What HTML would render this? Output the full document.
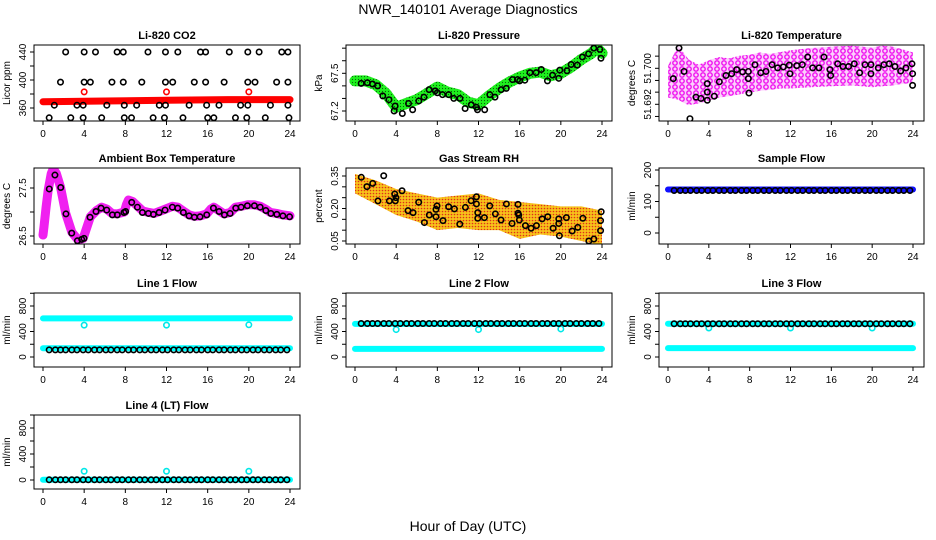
<!DOCTYPE html>
<html><head><meta charset="utf-8"><style>
body{margin:0;background:#fff}
svg{display:block;font-family:"Liberation Sans",sans-serif}
</style></head><body>
<svg id="c" width="936" height="540" viewBox="0 0 936 540">
<defs>
<pattern id="rhdots" width="3" height="3" patternUnits="userSpaceOnUse"><rect width="3" height="3" fill="#f7c21a"/><circle cx="1.5" cy="1.5" r="0.8" fill="#e0301a"/></pattern>
<pattern id="grdots" width="3" height="3" patternUnits="userSpaceOnUse"><rect width="3" height="3" fill="#1ef01e"/><circle cx="1.5" cy="1.5" r="0.6" fill="#0a600a"/></pattern>
<pattern id="mgring" width="7" height="6" patternUnits="userSpaceOnUse"><rect width="7" height="6" fill="#fbd0fb"/><circle cx="3" cy="3" r="2.2" fill="none" stroke="#f010f0" stroke-width="1.4"/></pattern>
</defs>
<text x="468" y="14" font-size="14" text-anchor="middle">NWR_140101  Average Diagnostics</text>
<text x="468" y="531" font-size="14" text-anchor="middle">Hour of Day (UTC)</text>
</svg>
<script>
// ---- data ----
const xTicks=[0,4,8,12,16,20,24];
const co2TopH=[2.2,4.0,5.1,7.2,7.8,10.2,11.9,13.1,15.3,15.8,18.1,19.9,21.0,23.2,23.8];
const co2MidH=[1.7,4.0,4.6,6.7,7.8,9.6,11.9,12.6,14.7,15.8,17.6,19.9,20.6,22.7,23.8];
const co2LowH=[1.1,3.3,3.9,6.2,7.9,9.1,11.3,11.9,14.2,15.9,17.1,19.2,19.9,22.1,23.8];
const co2BotH=[0.6,2.7,3.9,5.7,7.9,8.6,10.7,11.8,13.6,16.0,16.6,18.7,19.8,21.6,23.9];
const co2Levels=[440,397,364,346];
const co2RedH=[0,6,12,18,24];
const co2RedV=[369,370,371,372,372];
const co2RedOutH=[4,12,20];
const co2RedOutV=[383,383,383];

const presBlkH=[0.6,1.2,1.7,2.2,2.7,3.3,3.9,3.8,4.6,5.2,5.6,6.2,6.7,7.2,7.8,8.0,8.5,9.1,9.6,10.2,10.7,11.3,11.8,11.9,12.6,13.1,13.6,14.2,14.7,15.3,15.8,16.0,16.5,17.0,17.6,18.1,18.7,19.2,19.8,19.9,20.6,21.0,21.6,22.1,22.7,23.2,23.8,23.9];
const presBlkV=[67.42,67.425,67.415,67.40,67.32,67.29,67.24,67.20,67.18,67.26,67.21,67.28,67.31,67.37,67.36,67.345,67.33,67.33,67.30,67.30,67.22,67.25,67.23,67.21,67.21,67.33,67.31,67.37,67.38,67.45,67.45,67.44,67.445,67.505,67.505,67.53,67.44,67.485,67.46,67.525,67.52,67.57,67.565,67.63,67.655,67.70,67.69,67.62];
const presGrnH=[0,1,2,3,4,5,6,7,8,9,10,11,12,13,14,15,16,17,18,19,20,21,22,23,23.5,24];
const presGrnV=[67.44,67.44,67.41,67.34,67.23,67.26,67.29,67.34,67.39,67.35,67.33,67.27,67.25,67.32,67.38,67.43,67.47,67.50,67.51,67.48,67.50,67.55,67.61,67.66,67.70,67.66];

const tempBlkH=[0.52,1.08,1.57,2.15,2.74,3.23,3.85,3.85,3.85,4.54,5.03,5.68,6.24,6.73,7.31,7.87,7.87,7.93,8.52,9.08,9.60,10.19,10.74,11.30,11.88,11.95,12.61,13.16,13.68,14.17,14.79,15.28,15.87,15.93,16.62,17.14,17.69,18.25,18.77,19.30,19.88,19.88,20.6,21.15,21.67,22.23,22.79,23.31,23.90,23.96,23.96];
const tempBlkV=[51.6977,51.7045,51.6993,51.6888,51.6936,51.6933,51.6966,51.6947,51.6929,51.6938,51.6970,51.6984,51.6988,51.6997,51.6992,51.6993,51.6977,51.6945,51.7008,51.6990,51.6993,51.7008,51.7001,51.7003,51.7007,51.6988,51.7006,51.7008,51.7025,51.7001,51.7001,51.7025,51.6997,51.6984,51.7010,51.7004,51.7004,51.7010,51.6990,51.7008,51.7008,51.6988,51.7001,51.7008,51.7010,51.7004,51.6994,51.7001,51.7010,51.6988,51.6962];
const tempBandH=[0,1,2,3,4,5,6,7,8,9,10,11,12,14,16,18,20,21,22,23,24];
const tempBandHi=[51.7005,51.7050,51.7020,51.7008,51.7018,51.7025,51.7022,51.7028,51.7030,51.7035,51.7032,51.7036,51.7040,51.7045,51.7048,51.7050,51.7046,51.7050,51.7048,51.7042,51.7035];
const tempBandLo=[51.6935,51.6930,51.6918,51.6922,51.6928,51.6935,51.6938,51.6942,51.6946,51.6950,51.6952,51.6955,51.6955,51.6958,51.6960,51.6962,51.6958,51.6960,51.6962,51.6965,51.6968];
const tempTicks=[51.6893,51.6920,51.6947,51.6973,51.7000,51.7027];
const tempTickLbl=["","51.692","","","51.700",""];

const ambBlkH=[0.61,1.16,1.72,2.23,2.79,3.34,3.76,3.98,4.57,5.15,5.64,6.19,6.74,7.22,7.87,8.03,8.62,9.17,9.66,10.24,10.73,11.28,11.86,12.57,13.09,13.64,14.19,14.71,15.26,15.91,16.56,17.11,17.63,18.18,18.73,19.25,19.86,20.54,21.10,21.65,22.14,22.72,23.31,23.96];
const ambBlkV=[27.48,27.77,27.51,26.96,26.56,26.40,26.43,26.45,26.89,27.01,27.08,27.04,26.94,26.94,26.99,27.01,27.20,27.10,26.99,26.97,26.95,26.99,27.04,27.10,27.08,26.99,26.92,26.89,26.90,26.94,27.08,27.01,26.94,26.97,27.08,27.10,27.13,27.13,27.10,27.03,26.97,26.95,26.92,26.90];
const ambMagH=[0,0.1,0.3,0.5,0.8,1.0,1.3,1.7,2.2,2.8,3.4,3.9,4.6,5.2,5.7,6.2,6.7,7.2,7.9,8.1,8.3,8.7,9.2,9.7,10.3,10.8,11.3,11.9,12.6,13.1,13.7,14.2,14.7,15.3,15.9,16.3,16.6,17.1,17.6,18.2,18.7,19.3,19.9,20.5,21.1,21.7,22.1,22.7,23.3,24];
const ambMagV=[26.52,26.7,27.1,27.45,27.8,27.9,27.8,27.52,26.98,26.58,26.42,26.45,26.9,27.03,27.1,27.06,26.97,26.96,27.0,27.15,27.25,27.22,27.12,27.02,26.99,26.97,27.01,27.06,27.12,27.10,27.01,26.94,26.91,26.92,26.96,27.06,27.1,27.03,26.96,26.99,27.1,27.12,27.15,27.15,27.12,27.05,26.99,26.97,26.94,26.92];

const rhBlkH=[0.61,1.16,1.72,2.79,2.23,3.34,3.86,3.92,3.98,4.57,5.15,5.64,6.19,6.74,7.22,7.87,7.97,7.87,8.55,9.10,9.66,10.18,10.73,11.28,11.80,11.80,11.93,11.93,12.57,13.09,13.64,14.19,14.71,15.26,15.84,15.84,15.91,15.97,16.56,17.11,17.63,18.18,18.73,19.25,19.86,19.80,19.80,20.54,21.10,21.65,22.14,22.72,23.21,23.86,23.86,23.92];
const rhBlkV=[0.344,0.301,0.316,0.351,0.235,0.235,0.267,0.235,0.250,0.282,0.190,0.181,0.229,0.135,0.170,0.162,0.212,0.196,0.144,0.208,0.198,0.128,0.205,0.236,0.254,0.221,0.181,0.155,0.158,0.212,0.175,0.147,0.221,0.131,0.219,0.178,0.170,0.147,0.121,0.109,0.121,0.152,0.162,0.109,0.074,0.152,0.131,0.158,0.096,0.113,0.155,0.050,0.059,0.098,0.144,0.185];
const rhBandH=[0,2,4,6,8,10,12,14,16,18,20,22,24];
const rhBandHi=[0.36,0.33,0.29,0.27,0.25,0.26,0.27,0.24,0.23,0.22,0.21,0.21,0.19];
const rhBandLo=[0.27,0.22,0.17,0.14,0.10,0.11,0.10,0.10,0.06,0.08,0.07,0.05,0.03];

const flowH=[0.6,1.2,1.7,2.2,2.8,3.3,3.9,4.4,5.0,5.5,6.1,6.6,7.2,7.7,8.3,8.8,9.4,9.9,10.5,11.0,11.6,12.1,12.7,13.2,13.8,14.3,14.9,15.4,16.0,16.5,17.1,17.6,18.2,18.7,19.3,19.8,20.4,20.9,21.5,22.0,22.6,23.1,23.7];
const sampleBlkV=[135,135,135,135,135,135,135,135,135,135,135,135,135,135,135,135,135,135,135,135,135,135,135,135,135,135,135,135,135,135,135,135,135,135,135,135,135,135,135,135,135,135,135];
const sampleBlueH=[0,24];const sampleBlueV=[138,138];
const line1BlkV=[112,112,112,112,112,112,112,112,112,112,112,112,112,112,112,112,112,112,112,112,112,112,112,112,112,112,112,112,112,112,112,112,112,112,112,112,112,112,112,112,112,112,112];
const line2BlkV=[525,525,525,525,525,525,525,525,525,525,525,525,525,525,525,525,525,525,525,525,525,525,525,525,525,525,525,525,525,525,525,525,525,525,525,525,525,525,525,525,525,525,525];
const line3BlkV=[522,522,522,522,522,522,522,522,522,522,522,522,522,522,522,522,522,522,522,522,522,522,522,522,522,522,522,522,522,522,522,522,522,522,522,522,522,522,522,522,522,522,522];
const line4BlkV=[3,3,3,3,3,3,3,3,3,3,3,3,3,3,3,3,3,3,3,3,3,3,3,3,3,3,3,3,3,3,3,3,3,3,3,3,3,3,3,3,3,3,3];
const cyanBandH=[0,24];
const line1CyanA=[605,608];const line1CyanB=[138,138];
const line2CyanA=[520,520];const line2CyanB=[128,128];
const line3CyanA=[522,522];const line3CyanB=[140,140];
const line4CyanA=[4,4];
const outH=[4,12,20];
const line1OutV=[500,500,505];
const line2OutV=[430,430,440];
const line3OutV=[455,455,455];
const line4OutV=[135,135,135];

// ---- drawing ----
const svg=document.getElementById('c');
const NS='http://www.w3.org/2000/svg';
function mk(tag,at,parent){const e=document.createElementNS(NS,tag);for(const k in at)e.setAttribute(k,at[k]);(parent||svg).appendChild(e);return e;}
const cols=[{b0:34,b1:300,h0:43,h24:290,lx:8},{b0:346,b1:612,h0:355,h24:602,lx:320},{b0:659,b1:924,h0:668,h24:913,lx:633}];
function panel(name,title,col,top,bot,v0,y0,v1,y1,ticks,lbls,ylab){
  const c=cols[col];
  const g=mk('g',{});
  
  
  const P={g:g,x:h=>c.h0+h*(c.h24-c.h0)/24,y:v=>y0+(v-v0)*(y1-y0)/(v1-v0)};
  const cp=mk('clipPath',{id:'cp-'+name},g);mk('rect',{x:c.b0,y:top,width:c.b1-c.b0,height:bot-top},cp);
  P.plot=mk('g',{'clip-path':'url(#cp-'+name+')'},g);
  const t=mk('text',{x:(c.b0+c.b1)/2,y:top-6,'font-size':11,'font-weight':'bold','text-anchor':'middle'},g);t.textContent=title;
  
  
  const box=mk('rect',{x:c.b0,y:top,width:c.b1-c.b0,height:bot-top,fill:'none',stroke:'#000','stroke-width':1},g);
  
  
  xTicks.forEach(h=>{const x=P.x(h);mk('line',{x1:x,x2:x,y1:bot,y2:bot+4,stroke:'#000'},g);
    const tx=mk('text',{x:x,y:bot+16,'font-size':10,'text-anchor':'middle'},g);tx.textContent=h;
    
    });
  ticks.forEach((v,i)=>{const y=P.y(v);mk('line',{x1:c.b0-4,x2:c.b0,y1:y,y2:y,stroke:'#000'},g);
    if(lbls[i]){const ty=mk('text',{x:c.b0-8,y:y,'font-size':10,'text-anchor':'middle',transform:`rotate(-90 ${c.b0-8} ${y})`},g);ty.textContent=lbls[i];
    
    }});
  const yl=mk('text',{x:c.lx+2,y:(top+bot)/2,'font-size':10,'text-anchor':'middle',transform:`rotate(-90 ${c.lx+2} ${(top+bot)/2})`},g);yl.textContent=ylab;
  
  
  return P;
}
function pts(P,H,V,color,nm){H.forEach((h,i)=>{const e=mk('circle',{cx:P.x(h),cy:P.y(V[i]),r:2.7,fill:'none',stroke:color,'stroke-width':1.6},P.plot);
  
  });}
function band(P,H,V,color,w,nm){const e=mk('polyline',{points:H.map((h,i)=>P.x(h)+','+P.y(V[i])).join(' '),fill:'none',stroke:color,'stroke-width':w,'stroke-linejoin':'round','stroke-linecap':'round'},P.plot);
  
  }
function area(P,H,Hi,Lo,fill,nm){const up=H.map((h,i)=>P.x(h)+','+P.y(Hi[i]));const lo=H.map((h,i)=>P.x(h)+','+P.y(Lo[i])).reverse();
  const e=mk('polygon',{points:up.concat(lo).join(' '),fill:fill},P.plot);
  
  }

// CO2
let P=panel('co2-panel','Li-820 CO2',0,45,121,440,52,360,108,[360,380,400,420,440],['360','','400','','440'],'Licor ppm');
band(P,co2RedH,co2RedV,'#ff0000',7,'co2-red-series');
pts(P,co2RedOutH,co2RedOutV,'#ff0000','co2-red-point');
[co2TopH,co2MidH,co2LowH,co2BotH].forEach((H,k)=>pts(P,H,H.map(()=>co2Levels[k]),'#000','co2-black-point'));
// Pressure
P=panel('pressure-panel','Li-820 Pressure',1,45,121,67.2,111,67.5,73.3,[67.2,67.3,67.4,67.5,67.6,67.7],['67.2','','','67.5','',''],'kPa');
band(P,presGrnH,presGrnV,'url(#grdots)',11,'pressure-green-series');
pts(P,presBlkH,presBlkV,'#000','pressure-black-point');
// Temperature
P=panel('temperature-panel','Li-820 Temperature',2,45,121,51.692,104.3,51.700,68.3,tempTicks,tempTickLbl,'degrees C');
area(P,tempBandH,tempBandHi,tempBandLo,'url(#mgring)','temperature-magenta-series');
pts(P,tempBlkH,tempBlkV,'#000','temperature-black-point');
// Ambient
P=panel('ambient-panel','Ambient Box Temperature',0,168,244,27.5,188,26.5,236,[26.5,27.0,27.5],['26.5','','27.5'],'degrees C');
band(P,ambMagH,ambMagV,'#f020f0',9,'ambient-magenta-series');
pts(P,ambBlkH,ambBlkV,'#000','ambient-black-point');
// RH
P=panel('rh-panel','Gas Stream RH',1,168,244,0.35,176,0.05,241,[0.05,0.10,0.15,0.20,0.25,0.30,0.35],['0.05','','','0.20','','','0.35'],'percent');
area(P,rhBandH,rhBandHi,rhBandLo,'url(#rhdots)','rh-orange-series');
pts(P,rhBlkH,rhBlkV,'#000','rh-black-point');
// Sample flow
P=panel('sample-flow-panel','Sample Flow',2,168,244,200,170,0,233,[0,50,100,150,200],['0','','100','','200'],'ml/min');
band(P,sampleBlueH,sampleBlueV,'#1010ff',6,'sample-flow-blue-series');
pts(P,flowH,sampleBlkV,'#000','sample-flow-black-point');
// Lines
const ft=[0,200,400,600,800,1000],fl=['0','','400','','800',''];
P=panel('line1-panel','Line 1 Flow',0,293,367,800,306,0,357,ft,fl,'ml/min');
band(P,cyanBandH,line1CyanA,'#00ffff',6,'line1-cyan-series');band(P,cyanBandH,line1CyanB,'#00ffff',6,'line1-cyan-series-2');
pts(P,outH,line1OutV,'#00e8e8','line1-cyan-point');pts(P,flowH,line1BlkV,'#000','line1-black-point');
P=panel('line2-panel','Line 2 Flow',1,293,367,800,306,0,357,ft,fl,'ml/min');
band(P,cyanBandH,line2CyanA,'#00ffff',6,'line2-cyan-series');band(P,cyanBandH,line2CyanB,'#00ffff',6,'line2-cyan-series-2');
pts(P,outH,line2OutV,'#00e8e8','line2-cyan-point');pts(P,flowH,line2BlkV,'#000','line2-black-point');
P=panel('line3-panel','Line 3 Flow',2,293,367,800,306,0,357,ft,fl,'ml/min');
band(P,cyanBandH,line3CyanA,'#00ffff',6,'line3-cyan-series');band(P,cyanBandH,line3CyanB,'#00ffff',6,'line3-cyan-series-2');
pts(P,outH,line3OutV,'#00e8e8','line3-cyan-point');pts(P,flowH,line3BlkV,'#000','line3-black-point');
P=panel('line4-panel','Line 4 (LT) Flow',0,415,489,800,428,0,480,ft,fl,'ml/min');
band(P,cyanBandH,line4CyanA,'#00ffff',6,'line4-cyan-series');
pts(P,outH,line4OutV,'#00e8e8','line4-cyan-point');pts(P,flowH,line4BlkV,'#000','line4-black-point');
</script>
</body></html>
